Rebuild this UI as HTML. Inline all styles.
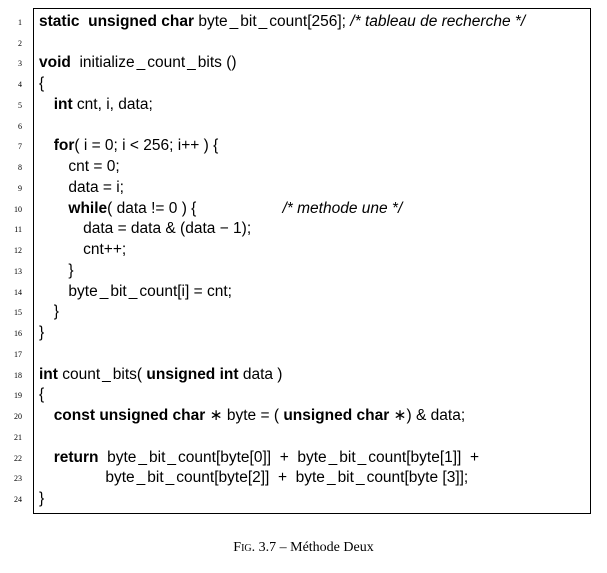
<!DOCTYPE html>
<html><head><meta charset="utf-8"><style>
body{margin:0;width:607px;height:573px;background:#fff;font-family:"Liberation Sans",sans-serif;color:#000;position:relative;overflow:hidden}
.box{position:absolute;left:33px;top:8px;width:558px;height:506px;border:1px solid #000;box-sizing:border-box}
.l{position:absolute;font-size:15.5px;white-space:pre;line-height:20px;height:20px}
.n{position:absolute;font-size:8px;line-height:20px;width:22px;text-align:right;left:0;font-family:"Liberation Serif",serif}
b{font-weight:bold}
i{font-style:italic}
.u{margin:0 2px}
.cap{position:absolute;top:540px;left:0;width:607px;text-align:center;font-family:"Liberation Serif",serif;font-size:14px}
</style></head><body>
<div class="box"></div>
<div id="c"></div>
<div class="cap"><span style="font-variant:small-caps">Fig.</span> 3.7 – Méthode Deux</div>
<script>
var L=[
[0,'<b>static  unsigned char</b> byte_bit_count[256]; <i>/* tableau de recherche */</i>'],
[0,''],
[0,'<b>void</b>  initialize_count_bits ()'],
[0,'{'],
[1,'<b>int</b> cnt, i, data;'],
[0,''],
[1,'<b>for</b>( i = 0; i &lt; 256; i++ ) {'],
[2,'cnt = 0;'],
[2,'data = i;'],
[2,'<b>while</b>( data != 0 ) {                    <i>/* methode une */</i>'],
[3,'data = data &amp; (data − 1);'],
[3,'cnt++;'],
[2,'}'],
[2,'byte_bit_count[i] = cnt;'],
[1,'}'],
[0,'}'],
[0,''],
[0,'<b>int</b> count_bits( <b>unsigned int</b> data )'],
[0,'{'],
[1,'<b>const unsigned char</b> ∗ byte = ( <b>unsigned char</b> ∗) &amp; data;'],
[0,''],
[1,'<b>return</b>  byte_bit_count[byte[0]]  +  byte_bit_count[byte[1]]  +'],
[1,'            byte_bit_count[byte[2]]  +  byte_bit_count[byte [3]];'],
[0,'}']];
var h='';
for(var k=0;k<L.length;k++){var t=12+k*20.74;
var s=L[k][1].replace(/_/g,'<span class="u">_</span>');
h+='<div class="n" style="top:'+(t+1)+'px">'+(k+1)+'</div>';
h+='<div class="l" style="top:'+t+'px;left:'+(39+L[k][0]*14.7)+'px">'+s+'</div>';}
document.getElementById('c').innerHTML=h;
</script>
</body></html>
